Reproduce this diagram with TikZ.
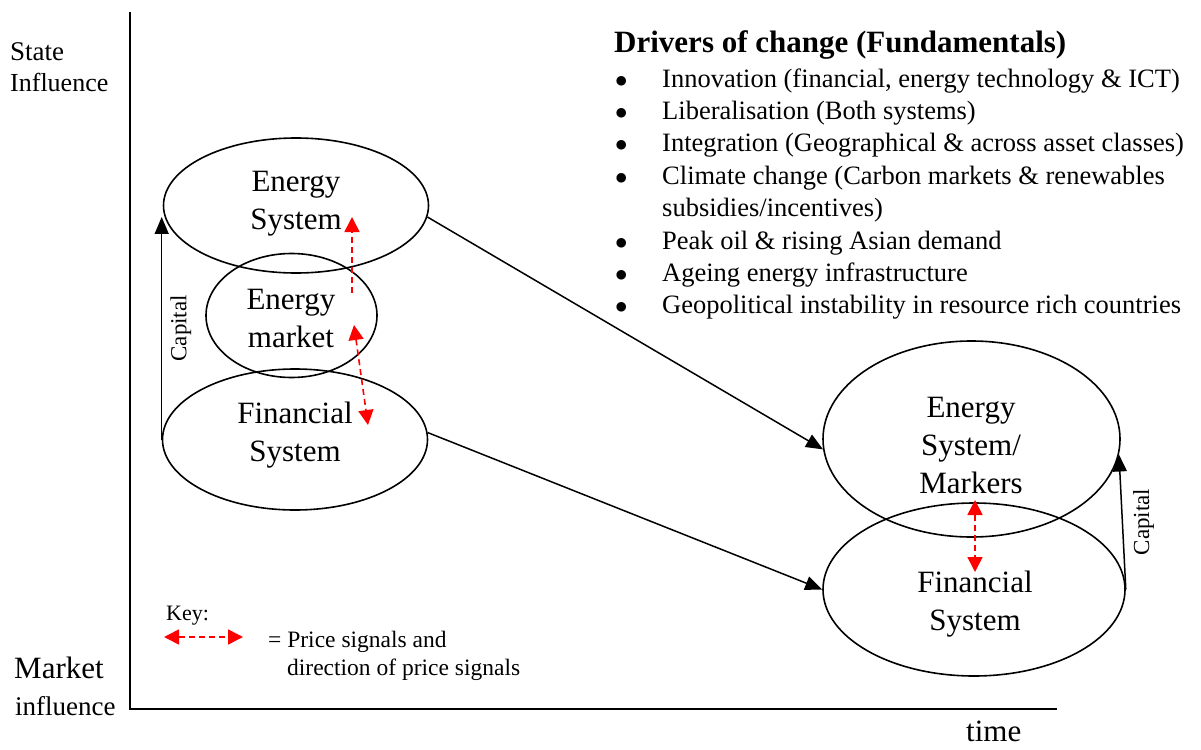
\documentclass[tikz,border=0pt]{standalone}
\usepackage{fontspec}
\setmainfont{Liberation Serif}
\usetikzlibrary{shapes.geometric,arrows.meta}
\tikzset{
  sys/.style={draw, ellipse, line width=1.6pt, inner sep=0pt},
  sysname/.style={align=center, font=\fontsize{31}{38}\selectfont},
  txt/.style={anchor=base west, inner sep=0pt},
  flow/.style={line width=1.5pt, -{Triangle[length=17pt,width=14pt]}},
  price/.style={red, line width=1.6pt, dash pattern=on 6pt off 4pt, >={Triangle[length=15pt,width=15pt]}},
}
\begin{document}
\begin{tikzpicture}[x=1pt, y=-1pt]
            \useasboundingbox (0,0) rectangle (1201,749);

            % axes
            \draw[line width=2pt] (130,12) -- (130,709) -- (1057,709);
            \node[txt, font=\fontsize{27}{32}\selectfont] (state) at (10,61) {State};
            \node[txt, font=\fontsize{26}{32}\selectfont] (stateinf) at (10,92) {Influence};
            \node[txt, font=\fontsize{31}{36}\selectfont] (market) at (14,678) {Market};
            \node[txt, font=\fontsize{27}{32}\selectfont] (marketinf) at (15,715) {influence};
            \node[txt, font=\fontsize{31}{36}\selectfont] (time) at (966,741) {time};

            % left: today
            \node[sys, minimum width=265pt, minimum height=135pt] (esys) at (296,205.5) {};
            \node[sys, minimum width=171pt, minimum height=124pt] (emkt) at (291.5,315.5) {};
            \node[sys, minimum width=265pt, minimum height=141pt] (fsys) at (295,439.5) {};
            \node[sysname] (esyst) at (296,204) {Energy\\System};
            \node[sysname] (emktt) at (291,318) {Energy\\market};
            \node[sysname] (fsyst) at (295,435) {Financial\\System};

            % right: later
            \node[sys, minimum width=297pt, minimum height=196pt] (esm) at (971.5,439) {};
            \node[sys, minimum width=302pt, minimum height=173pt] (fsys2) at (974,589.5) {};
            \node[sysname] (esmt) at (971,445) {Energy\\System/\\Markers};
            \node[sysname] (fsys2t) at (975,604) {Financial\\System};

            % capital
            \draw[flow] (fsys.west) -- (fsys.west |- esys.185)
                node[pos=0.5, rotate=90, anchor=north, inner sep=8pt, font=\fontsize{23}{28}\selectfont] (capl) {Capital};
            \draw[flow] (fsys2.east) -- (esm.-6)
                node[pos=0.5, rotate=90, anchor=north, inner sep=10pt, font=\fontsize{23}{28}\selectfont] (capr) {Capital};

            % over time
            \draw[flow] (esys.-5) -- (esm.184);
            \draw[flow] (fsys.3) -- (fsys2.west);

            % price signals
            \coordinate (pa) at (352,293);
            \coordinate (pb) at (352,217);
            \coordinate (pc) at (354,325);
            \coordinate (pd) at (368,425);
            \coordinate (pe) at (975,500);
            \coordinate (pf) at (975,572);
            \draw[price,->] (pa) -- (pb);
            \draw[price,<->] (pc) -- (pd);
            \draw[price,<->] (pe) -- (pf);

            % drivers
            \node[txt, font=\bfseries\fontsize{31}{36}\selectfont] (drivers) at (614,53) {Drivers of change (Fundamentals)};
            \node[anchor=north west, inner sep=0pt, font=\fontsize{26.5}{32.4}\selectfont] (driverlist) at (615,64.3) {%
              \begin{tabular}{@{}p{47pt}@{}l@{}}
                $\bullet$ & Innovation (financial, energy technology \& ICT)\\
                $\bullet$ & Liberalisation (Both systems)\\
                $\bullet$ & Integration (Geographical \& across asset classes)\\
                $\bullet$ & Climate change (Carbon markets \& renewables\\
                          & subsidies/incentives)\\
                $\bullet$ & Peak oil \& rising Asian demand\\
                $\bullet$ & Ageing energy infrastructure\\
                $\bullet$ & Geopolitical instability in resource rich countries
              \end{tabular}};

            % key
            \node[txt, font=\fontsize{22}{27}\selectfont] (key) at (166,620) {Key:};
            \coordinate (ka) at (164,637);
            \coordinate (kb) at (243,637);
            \draw[price,<->] (ka) -- (kb);
            \node[txt, font=\fontsize{23.5}{28}\selectfont] (keytxt) at (268,647) {= Price signals and};
            \node[txt, font=\fontsize{23.5}{28}\selectfont] (keytxtb) at (287,675) {direction of price signals};
        \end{tikzpicture}
\end{document}
